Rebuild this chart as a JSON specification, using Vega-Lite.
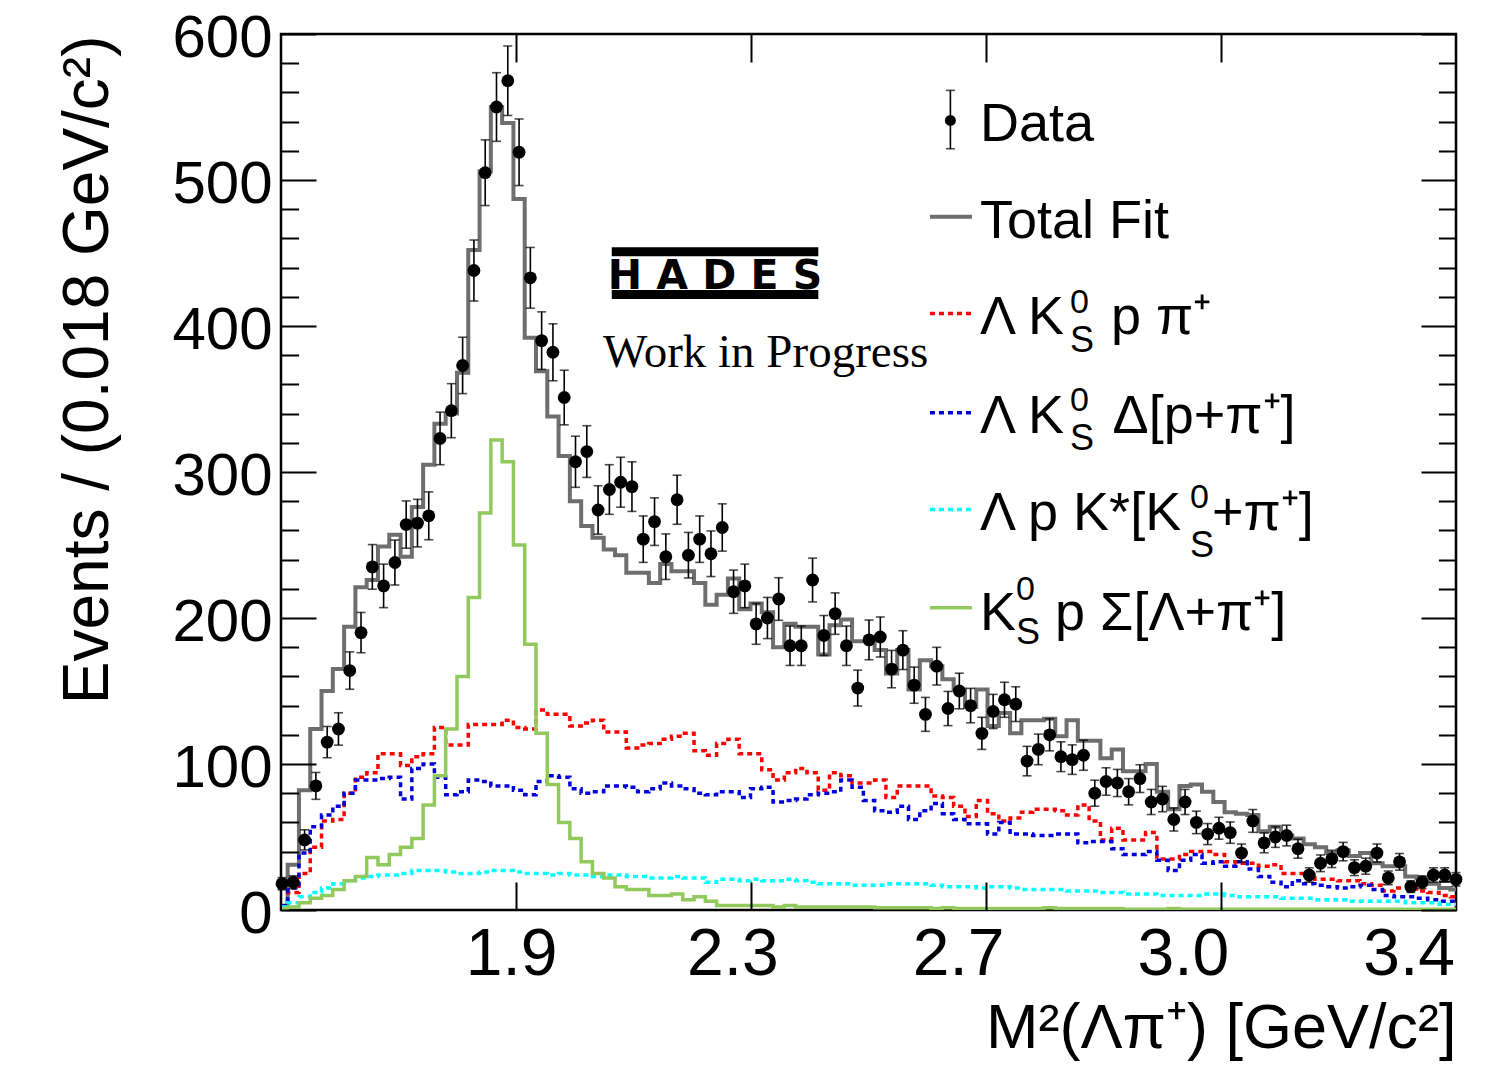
{
"$schema": "https://vega.github.io/schema/vega-lite/v6.json",
"width": 1175, "height": 876,
"autosize": {"type": "none"},
"padding": {"left": 281, "top": 34, "right": 55, "bottom": 156},
"background": "white",
"config": {"view": {"stroke": "black", "strokeWidth": 2.5}, "font": "Liberation Sans",
  "axis": {"labelFont": "Liberation Sans", "titleFont": "Liberation Sans", "labelColor": "black", "titleColor": "black", "tickColor": "black", "titleFontWeight": "normal", "grid": false, "domain": false, "labelFlush": false, "labelOverlap": false, "labelBound": false}},
"datasets": {"h": [
{"bin":0,"data":18,"err":4.2,"fit":2,"lkpp":2,"delta":3,"kstar":2,"sigma":1},
{"bin":1,"data":19,"err":4.4,"fit":31,"lkpp":12,"delta":15,"kstar":5,"sigma":2},
{"bin":2,"data":48,"err":6.9,"fit":82,"lkpp":25,"delta":39,"kstar":9,"sigma":5},
{"bin":3,"data":85,"err":9.2,"fit":124,"lkpp":43,"delta":57,"kstar":12,"sigma":8},
{"bin":4,"data":115,"err":10.7,"fit":150,"lkpp":61,"delta":65,"kstar":15,"sigma":10},
{"bin":5,"data":124,"err":11.1,"fit":165,"lkpp":62,"delta":71,"kstar":18,"sigma":14},
{"bin":6,"data":164,"err":12.8,"fit":194,"lkpp":80,"delta":80,"kstar":20,"sigma":20},
{"bin":7,"data":190,"err":13.8,"fit":221,"lkpp":91,"delta":89,"kstar":22,"sigma":23},
{"bin":8,"data":235,"err":15.3,"fit":226,"lkpp":94,"delta":89,"kstar":23,"sigma":36},
{"bin":9,"data":222,"err":14.9,"fit":249,"lkpp":107,"delta":90,"kstar":24,"sigma":31},
{"bin":10,"data":238,"err":15.4,"fit":257,"lkpp":107,"delta":91,"kstar":24,"sigma":38},
{"bin":11,"data":264,"err":16.2,"fit":242,"lkpp":99,"delta":76,"kstar":25,"sigma":43},
{"bin":12,"data":265,"err":16.3,"fit":276,"lkpp":105,"delta":97,"kstar":27,"sigma":49},
{"bin":13,"data":270,"err":16.4,"fit":305,"lkpp":107,"delta":100,"kstar":27,"sigma":72},
{"bin":14,"data":323,"err":18.0,"fit":333,"lkpp":125,"delta":91,"kstar":27,"sigma":92},
{"bin":15,"data":342,"err":18.5,"fit":340,"lkpp":113,"delta":79,"kstar":26,"sigma":124},
{"bin":16,"data":373,"err":19.3,"fit":368,"lkpp":113,"delta":81,"kstar":25,"sigma":160},
{"bin":17,"data":438,"err":20.9,"fit":452,"lkpp":127,"delta":89,"kstar":25,"sigma":214},
{"bin":18,"data":505,"err":22.5,"fit":506,"lkpp":127,"delta":88,"kstar":26,"sigma":272},
{"bin":19,"data":550,"err":23.5,"fit":550,"lkpp":127,"delta":85,"kstar":27,"sigma":322},
{"bin":20,"data":568,"err":23.8,"fit":539,"lkpp":130,"delta":85,"kstar":27,"sigma":307},
{"bin":21,"data":519,"err":22.8,"fit":487,"lkpp":125,"delta":82,"kstar":26,"sigma":250},
{"bin":22,"data":433,"err":20.8,"fit":392,"lkpp":124,"delta":79,"kstar":25,"sigma":182},
{"bin":23,"data":390,"err":19.7,"fit":369,"lkpp":137,"delta":88,"kstar":25,"sigma":121},
{"bin":24,"data":382,"err":19.5,"fit":338,"lkpp":134,"delta":92,"kstar":24,"sigma":86},
{"bin":25,"data":351,"err":18.7,"fit":311,"lkpp":134,"delta":91,"kstar":25,"sigma":60},
{"bin":26,"data":307,"err":17.5,"fit":280,"lkpp":126,"delta":83,"kstar":24,"sigma":49},
{"bin":27,"data":314,"err":17.7,"fit":263,"lkpp":128,"delta":80,"kstar":24,"sigma":33},
{"bin":28,"data":274,"err":16.6,"fit":255,"lkpp":130,"delta":81,"kstar":23,"sigma":25},
{"bin":29,"data":288,"err":17.0,"fit":247,"lkpp":122,"delta":85,"kstar":24,"sigma":22},
{"bin":30,"data":293,"err":17.1,"fit":243,"lkpp":122,"delta":85,"kstar":24,"sigma":16},
{"bin":31,"data":290,"err":17.0,"fit":231,"lkpp":111,"delta":84,"kstar":23,"sigma":14},
{"bin":32,"data":254,"err":15.9,"fit":231,"lkpp":113,"delta":81,"kstar":23,"sigma":14},
{"bin":33,"data":266,"err":16.3,"fit":224,"lkpp":114,"delta":83,"kstar":22,"sigma":10},
{"bin":34,"data":242,"err":15.6,"fit":237,"lkpp":117,"delta":87,"kstar":22,"sigma":10},
{"bin":35,"data":281,"err":16.8,"fit":232,"lkpp":119,"delta":85,"kstar":23,"sigma":11},
{"bin":36,"data":243,"err":15.6,"fit":232,"lkpp":121,"delta":83,"kstar":22,"sigma":7},
{"bin":37,"data":254,"err":15.9,"fit":224,"lkpp":109,"delta":80,"kstar":22,"sigma":9},
{"bin":38,"data":244,"err":15.6,"fit":209,"lkpp":106,"delta":79,"kstar":19,"sigma":6},
{"bin":39,"data":262,"err":16.2,"fit":216,"lkpp":114,"delta":81,"kstar":21,"sigma":3},
{"bin":40,"data":218,"err":14.8,"fit":227,"lkpp":117,"delta":81,"kstar":21,"sigma":3},
{"bin":41,"data":222,"err":14.9,"fit":206,"lkpp":107,"delta":77,"kstar":20,"sigma":3},
{"bin":42,"data":196,"err":14.0,"fit":210,"lkpp":107,"delta":83,"kstar":21,"sigma":3},
{"bin":43,"data":200,"err":14.1,"fit":204,"lkpp":96,"delta":84,"kstar":20,"sigma":3},
{"bin":44,"data":213,"err":14.6,"fit":180,"lkpp":89,"delta":74,"kstar":20,"sigma":2},
{"bin":45,"data":181,"err":13.5,"fit":196,"lkpp":94,"delta":75,"kstar":21,"sigma":3},
{"bin":46,"data":181,"err":13.5,"fit":194,"lkpp":97,"delta":76,"kstar":20,"sigma":2},
{"bin":47,"data":226,"err":15.0,"fit":194,"lkpp":94,"delta":79,"kstar":19,"sigma":2},
{"bin":48,"data":188,"err":13.7,"fit":175,"lkpp":82,"delta":80,"kstar":18,"sigma":2},
{"bin":49,"data":203,"err":14.2,"fit":195,"lkpp":94,"delta":81,"kstar":18,"sigma":2},
{"bin":50,"data":181,"err":13.5,"fit":199,"lkpp":92,"delta":89,"kstar":18,"sigma":2},
{"bin":51,"data":152,"err":12.3,"fit":184,"lkpp":87,"delta":84,"kstar":17,"sigma":2},
{"bin":52,"data":185,"err":13.6,"fit":184,"lkpp":87,"delta":75,"kstar":17,"sigma":2},
{"bin":53,"data":187,"err":13.7,"fit":178,"lkpp":89,"delta":68,"kstar":17,"sigma":1.5},
{"bin":54,"data":165,"err":12.8,"fit":162,"lkpp":77,"delta":67,"kstar":18,"sigma":1.5},
{"bin":55,"data":178,"err":13.3,"fit":178,"lkpp":85,"delta":71,"kstar":18,"sigma":1.5},
{"bin":56,"data":154,"err":12.4,"fit":151,"lkpp":85,"delta":62,"kstar":18,"sigma":1.5},
{"bin":57,"data":134,"err":11.6,"fit":171,"lkpp":85,"delta":68,"kstar":18,"sigma":1.5},
{"bin":58,"data":167,"err":12.9,"fit":167,"lkpp":78,"delta":73,"kstar":17,"sigma":1},
{"bin":59,"data":138,"err":11.7,"fit":158,"lkpp":77,"delta":66,"kstar":16,"sigma":1.5},
{"bin":60,"data":150,"err":12.2,"fit":151,"lkpp":71,"delta":62,"kstar":16,"sigma":1},
{"bin":61,"data":140,"err":11.8,"fit":139,"lkpp":64,"delta":59,"kstar":16,"sigma":1},
{"bin":62,"data":121,"err":11.0,"fit":151,"lkpp":75,"delta":59,"kstar":15,"sigma":1},
{"bin":63,"data":136,"err":11.7,"fit":126,"lkpp":66,"delta":52,"kstar":16,"sigma":1},
{"bin":64,"data":144,"err":12.0,"fit":135,"lkpp":61,"delta":60,"kstar":16,"sigma":1},
{"bin":65,"data":141,"err":11.9,"fit":121,"lkpp":63,"delta":52,"kstar":15,"sigma":1},
{"bin":66,"data":102,"err":10.1,"fit":130,"lkpp":67,"delta":52,"kstar":14,"sigma":1},
{"bin":67,"data":110,"err":10.5,"fit":130,"lkpp":69,"delta":51,"kstar":14,"sigma":1},
{"bin":68,"data":120,"err":11.0,"fit":131,"lkpp":69,"delta":51,"kstar":14,"sigma":1.5},
{"bin":69,"data":105,"err":10.2,"fit":119,"lkpp":68,"delta":52,"kstar":14,"sigma":1},
{"bin":70,"data":103,"err":10.1,"fit":130,"lkpp":65,"delta":52,"kstar":13,"sigma":1},
{"bin":71,"data":106,"err":10.3,"fit":116,"lkpp":72,"delta":46,"kstar":13,"sigma":1},
{"bin":72,"data":80,"err":8.9,"fit":116,"lkpp":61,"delta":47,"kstar":13,"sigma":1},
{"bin":73,"data":88,"err":9.4,"fit":104,"lkpp":48,"delta":47,"kstar":12,"sigma":1},
{"bin":74,"data":87,"err":9.3,"fit":110,"lkpp":56,"delta":42,"kstar":12,"sigma":1},
{"bin":75,"data":81,"err":9.0,"fit":95,"lkpp":48,"delta":38,"kstar":11,"sigma":0.5},
{"bin":76,"data":90,"err":9.5,"fit":95,"lkpp":48,"delta":38,"kstar":11,"sigma":0.5},
{"bin":77,"data":74,"err":8.6,"fit":100,"lkpp":53,"delta":40,"kstar":11,"sigma":0.5},
{"bin":78,"data":76,"err":8.7,"fit":81,"lkpp":35,"delta":34,"kstar":10,"sigma":0.5},
{"bin":79,"data":62,"err":7.9,"fit":69,"lkpp":35,"delta":27,"kstar":10,"sigma":1},
{"bin":80,"data":74,"err":8.6,"fit":85,"lkpp":38,"delta":34,"kstar":10,"sigma":0.5},
{"bin":81,"data":60,"err":7.7,"fit":86,"lkpp":40,"delta":38,"kstar":10,"sigma":0.5},
{"bin":82,"data":52,"err":7.2,"fit":81,"lkpp":40,"delta":32,"kstar":11,"sigma":0.5},
{"bin":83,"data":56,"err":7.5,"fit":74,"lkpp":38,"delta":33,"kstar":11,"sigma":0.5},
{"bin":84,"data":53,"err":7.3,"fit":67,"lkpp":33,"delta":30,"kstar":10,"sigma":0.5},
{"bin":85,"data":39,"err":6.2,"fit":66,"lkpp":32,"delta":33,"kstar":9,"sigma":0.5},
{"bin":86,"data":61,"err":7.8,"fit":65,"lkpp":32,"delta":28,"kstar":9,"sigma":0.5},
{"bin":87,"data":46,"err":6.8,"fit":54,"lkpp":30,"delta":23,"kstar":9,"sigma":0.5},
{"bin":88,"data":50,"err":7.1,"fit":57,"lkpp":31,"delta":19,"kstar":9,"sigma":0.5},
{"bin":89,"data":51,"err":7.1,"fit":51,"lkpp":25,"delta":16,"kstar":8,"sigma":0.5},
{"bin":90,"data":42,"err":6.5,"fit":49,"lkpp":25,"delta":20,"kstar":8,"sigma":0.5},
{"bin":91,"data":24,"err":4.9,"fit":45,"lkpp":24,"delta":18,"kstar":8,"sigma":0.5},
{"bin":92,"data":32,"err":5.7,"fit":43,"lkpp":21,"delta":17,"kstar":7,"sigma":0.5},
{"bin":93,"data":35,"err":5.9,"fit":39,"lkpp":21,"delta":16,"kstar":7,"sigma":0.5},
{"bin":94,"data":40,"err":6.3,"fit":41,"lkpp":20,"delta":15,"kstar":7,"sigma":0.5},
{"bin":95,"data":29,"err":5.4,"fit":37,"lkpp":20,"delta":16,"kstar":6,"sigma":0.5},
{"bin":96,"data":30,"err":5.5,"fit":39,"lkpp":18,"delta":17,"kstar":6,"sigma":0.5},
{"bin":97,"data":39,"err":6.2,"fit":32,"lkpp":17,"delta":14,"kstar":6,"sigma":0.5},
{"bin":98,"data":22,"err":4.7,"fit":30,"lkpp":13,"delta":10,"kstar":6,"sigma":0.5},
{"bin":99,"data":33,"err":5.7,"fit":30,"lkpp":15,"delta":9,"kstar":6,"sigma":0.5},
{"bin":100,"data":16,"err":4.0,"fit":23,"lkpp":15,"delta":9,"kstar":5,"sigma":0.5},
{"bin":101,"data":19,"err":4.4,"fit":22,"lkpp":13,"delta":8,"kstar":5,"sigma":0.5},
{"bin":102,"data":24,"err":4.9,"fit":18,"lkpp":12,"delta":7,"kstar":5,"sigma":0.5},
{"bin":103,"data":24,"err":4.9,"fit":15,"lkpp":10,"delta":6,"kstar":4,"sigma":0.5},
{"bin":104,"data":21,"err":4.6,"fit":14,"lkpp":9,"delta":6,"kstar":4,"sigma":0.5}
]},
"data": {"name": "h"},
"resolve": {"axis": {"x": "independent", "y": "independent"}},
"layer": [
{"mark": {"type": "line", "interpolate": "step", "clip": true, "color": "#6e6e6e", "strokeWidth": 4},
 "encoding": {
  "x": {"field": "bin", "type": "quantitative", "scale": {"domain": [-0.09, 104], "nice": false, "zero": false},
        "axis": {"orient": "bottom", "values": [20.73, 41.55, 62.37, 83.19], "tickSize": -28, "tickWidth": 2, "labels": false, "title": null, "zindex": 1}},
  "y": {"field": "fit", "type": "quantitative", "scale": {"domain": [0, 600], "nice": false, "zero": false},
        "axis": {"orient": "left", "values": [20,40,60,80,120,140,160,180,220,240,260,280,320,340,360,380,420,440,460,480,520,540,560,580], "tickSize": -17.6, "tickWidth": 2, "labels": false, "title": null, "zindex": 1}}}},
{"mark": {"type": "line", "interpolate": "step", "clip": true, "color": "#ff0000", "strokeWidth": 3.5, "strokeDash": [5, 4]},
 "encoding": {
  "x": {"field": "bin", "type": "quantitative", "scale": {"domain": [-0.09, 104], "nice": false, "zero": false},
        "axis": {"orient": "top", "values": [20.73, 41.55, 62.37, 83.19], "tickSize": -28, "tickWidth": 2, "labels": false, "title": null, "zindex": 1}},
  "y": {"field": "lkpp", "type": "quantitative", "scale": {"domain": [0, 600], "nice": false, "zero": false},
        "axis": {"orient": "right", "values": [0,100,200,300,400,500,600], "tickSize": -35, "tickWidth": 2, "labels": false, "title": null, "zindex": 1}}}},
{"mark": {"type": "line", "interpolate": "step", "clip": true, "color": "#0000dd", "strokeWidth": 3.5, "strokeDash": [5, 4]},
 "encoding": {
  "x": {"field": "bin", "type": "quantitative", "scale": {"domain": [-0.09, 104], "nice": false, "zero": false}, "axis": null},
  "y": {"field": "delta", "type": "quantitative", "scale": {"domain": [0, 600], "nice": false, "zero": false},
        "axis": {"orient": "right", "values": [20,40,60,80,120,140,160,180,220,240,260,280,320,340,360,380,420,440,460,480,520,540,560,580], "tickSize": -17.6, "tickWidth": 2, "labels": false, "title": null, "zindex": 1}}}},
{"mark": {"type": "line", "interpolate": "step", "clip": true, "color": "#00ffff", "strokeWidth": 3.5, "strokeDash": [5, 4]},
 "encoding": {
  "x": {"field": "bin", "type": "quantitative", "scale": {"domain": [-0.09, 104], "nice": false, "zero": false}, "axis": null},
  "y": {"field": "kstar", "type": "quantitative", "scale": {"domain": [0, 600], "nice": false, "zero": false}, "axis": null}}},
{"mark": {"type": "line", "interpolate": "step", "clip": true, "color": "#92c95c", "strokeWidth": 3.5},
 "encoding": {
  "x": {"field": "bin", "type": "quantitative", "scale": {"domain": [-0.09, 104], "nice": false, "zero": false}, "axis": null},
  "y": {"field": "sigma", "type": "quantitative", "scale": {"domain": [0, 600], "nice": false, "zero": false}, "axis": null}}},
{"mark": {"type": "errorbar", "ticks": {"size": 9, "thickness": 1.6, "color": "black"}, "rule": {"strokeWidth": 1.6, "color": "black"}, "color": "black"},
 "encoding": {
  "x": {"field": "bin", "type": "quantitative", "scale": {"domain": [-0.09, 104], "nice": false, "zero": false}, "axis": null},
  "y": {"field": "data", "type": "quantitative", "scale": {"domain": [0, 600], "nice": false, "zero": false}, "axis": null},
  "yError": {"field": "err"}}},
{"mark": {"type": "point", "shape": "circle", "filled": true, "size": 165, "color": "black", "opacity": 1},
 "encoding": {
  "x": {"field": "bin", "type": "quantitative", "scale": {"domain": [-0.09, 104], "nice": false, "zero": false},
        "axis": {"orient": "bottom", "values": [20.3, 39.9, 59.9, 79.8, 99.8], "ticks": false, "tickSize": 0,
                 "labelExpr": "datum.value < 30 ? '1.9' : datum.value < 50 ? '2.3' : datum.value < 70 ? '2.7' : datum.value < 90 ? '3.0' : '3.4'",
                 "labelFontSize": 66, "labelPadding": 12, "labelBaseline": "top", "labelAlign": "center",
                 "title": "M²(Λπ⁺) [GeV/c²]", "titleFontSize": 63, "titleAlign": "right", "titleBaseline": "alphabetic", "titleX": 1175, "titleY": 137}},
  "y": {"field": "data", "type": "quantitative", "scale": {"domain": [0, 600], "nice": false, "zero": false},
        "axis": {"orient": "left", "values": [0,100,200,300,400,500,600], "tickSize": -35, "tickWidth": 2, "zindex": 1,
                 "labelFontSize": 60, "labelPadding": 44, "labelOffset": 4, "labelBaseline": "middle", "labelAlign": "right",
                 "title": "Events / (0.018 GeV/c²)", "titleFontSize": 64, "titleAngle": -90, "titleAlign": "right", "titleBaseline": "alphabetic", "titleX": -174, "titleY": 1}}}},
{"data": {"values": [{}]}, "mark": {"type": "rule", "color": "black", "strokeWidth": 9, "strokeCap": "butt"},
 "encoding": {"x": {"datum": 29.21, "type": "quantitative", "axis": null}, "x2": {"datum": 47.51}, "y": {"datum": 450.9, "type": "quantitative", "axis": null}}},
{"data": {"values": [{}]}, "mark": {"type": "rule", "color": "black", "strokeWidth": 9, "strokeCap": "butt"},
 "encoding": {"x": {"datum": 29.21, "type": "quantitative", "axis": null}, "x2": {"datum": 47.51}, "y": {"datum": 421.6, "type": "quantitative", "axis": null}}},
{"data": {"values": [{}]}, "mark": {"type": "text", "text": "H A D E S", "font": "DejaVu Sans", "fontWeight": "bold", "fontSize": 41, "align": "center", "baseline": "alphabetic", "color": "black"},
 "encoding": {"x": {"datum": 38.36, "type": "quantitative", "axis": null}, "y": {"datum": 425.3, "type": "quantitative", "axis": null}}},
{"data": {"values": [{}]}, "mark": {"type": "text", "text": "Work in Progress", "font": "Liberation Serif", "fontSize": 47, "align": "left", "baseline": "alphabetic", "color": "black"},
 "encoding": {"x": {"datum": 28.44, "type": "quantitative", "axis": null}, "y": {"datum": 372.1, "type": "quantitative", "axis": null}}},
{"data": {"values": [{}]}, "mark": {"type": "rule", "color": "black", "strokeWidth": 1.6},
 "encoding": {"x": {"datum": 59.21, "type": "quantitative", "axis": null}, "y": {"datum": 521.4, "type": "quantitative", "axis": null}, "y2": {"datum": 561.4}}},
{"data": {"values": [{}]}, "mark": {"type": "tick", "orient": "horizontal", "color": "black", "size": 9, "thickness": 1.6},
 "encoding": {"x": {"datum": 59.21, "type": "quantitative", "axis": null}, "y": {"datum": 521.4, "type": "quantitative", "axis": null}}},
{"data": {"values": [{}]}, "mark": {"type": "tick", "orient": "horizontal", "color": "black", "size": 9, "thickness": 1.6},
 "encoding": {"x": {"datum": 59.21, "type": "quantitative", "axis": null}, "y": {"datum": 561.4, "type": "quantitative", "axis": null}}},
{"data": {"values": [{}]}, "mark": {"type": "point", "shape": "circle", "filled": true, "size": 120, "color": "black", "opacity": 1},
 "encoding": {"x": {"datum": 59.21, "type": "quantitative", "axis": null}, "y": {"datum": 540.8, "type": "quantitative", "axis": null}}},
{"data": {"values": [{}]}, "mark": {"type": "text", "text": "Data", "fontSize": 54, "align": "left", "baseline": "alphabetic", "color": "black"},
 "encoding": {"x": {"datum": 61.83, "type": "quantitative", "axis": null}, "y": {"datum": 527.0, "type": "quantitative", "axis": null}}},
{"data": {"values": [{}]}, "mark": {"type": "rule", "color": "#6e6e6e", "strokeWidth": 4},
 "encoding": {"x": {"datum": 57.4, "type": "quantitative", "axis": null}, "x2": {"datum": 61.12}, "y": {"datum": 474.8, "type": "quantitative", "axis": null}}},
{"data": {"values": [{}]}, "mark": {"type": "text", "text": "Total Fit", "fontSize": 54, "align": "left", "baseline": "alphabetic", "color": "black"},
 "encoding": {"x": {"datum": 61.83, "type": "quantitative", "axis": null}, "y": {"datum": 460.3, "type": "quantitative", "axis": null}}},
{"data": {"values": [{}]}, "mark": {"type": "rule", "color": "#ff0000", "strokeWidth": 3.5, "strokeDash": [5, 4]},
 "encoding": {"x": {"datum": 57.4, "type": "quantitative", "axis": null}, "x2": {"datum": 61.12}, "y": {"datum": 408.6, "type": "quantitative", "axis": null}}},
{"data": {"values": [{}]}, "mark": {"type": "text", "text": "Λ K", "fontSize": 54, "align": "left", "baseline": "alphabetic", "color": "black"},
 "encoding": {"x": {"datum": 61.83, "type": "quantitative", "axis": null}, "y": {"datum": 394.7, "type": "quantitative", "axis": null}}},
{"data": {"values": [{}]}, "mark": {"type": "text", "text": "0", "fontSize": 34, "align": "left", "baseline": "alphabetic", "color": "black"},
 "encoding": {"x": {"datum": 69.8, "type": "quantitative", "axis": null}, "y": {"datum": 409.0, "type": "quantitative", "axis": null}}},
{"data": {"values": [{}]}, "mark": {"type": "text", "text": "S", "fontSize": 36, "align": "left", "baseline": "alphabetic", "color": "black"},
 "encoding": {"x": {"datum": 69.8, "type": "quantitative", "axis": null}, "y": {"datum": 382.5, "type": "quantitative", "axis": null}}},
{"data": {"values": [{}]}, "mark": {"type": "text", "text": "p π⁺", "fontSize": 54, "align": "left", "baseline": "alphabetic", "color": "black"},
 "encoding": {"x": {"datum": 73.44, "type": "quantitative", "axis": null}, "y": {"datum": 394.7, "type": "quantitative", "axis": null}}},
{"data": {"values": [{}]}, "mark": {"type": "rule", "color": "#0000dd", "strokeWidth": 3.5, "strokeDash": [5, 4]},
 "encoding": {"x": {"datum": 57.4, "type": "quantitative", "axis": null}, "x2": {"datum": 61.12}, "y": {"datum": 340.6, "type": "quantitative", "axis": null}}},
{"data": {"values": [{}]}, "mark": {"type": "text", "text": "Λ K", "fontSize": 54, "align": "left", "baseline": "alphabetic", "color": "black"},
 "encoding": {"x": {"datum": 61.83, "type": "quantitative", "axis": null}, "y": {"datum": 326.7, "type": "quantitative", "axis": null}}},
{"data": {"values": [{}]}, "mark": {"type": "text", "text": "0", "fontSize": 34, "align": "left", "baseline": "alphabetic", "color": "black"},
 "encoding": {"x": {"datum": 69.8, "type": "quantitative", "axis": null}, "y": {"datum": 341.9, "type": "quantitative", "axis": null}}},
{"data": {"values": [{}]}, "mark": {"type": "text", "text": "S", "fontSize": 36, "align": "left", "baseline": "alphabetic", "color": "black"},
 "encoding": {"x": {"datum": 69.8, "type": "quantitative", "axis": null}, "y": {"datum": 315.3, "type": "quantitative", "axis": null}}},
{"data": {"values": [{}]}, "mark": {"type": "text", "text": "Δ[p+π⁺]", "fontSize": 54, "align": "left", "baseline": "alphabetic", "color": "black"},
 "encoding": {"x": {"datum": 73.58, "type": "quantitative", "axis": null}, "y": {"datum": 326.7, "type": "quantitative", "axis": null}}},
{"data": {"values": [{}]}, "mark": {"type": "rule", "color": "#00ffff", "strokeWidth": 3.5, "strokeDash": [5, 4]},
 "encoding": {"x": {"datum": 57.4, "type": "quantitative", "axis": null}, "x2": {"datum": 61.12}, "y": {"datum": 274.4, "type": "quantitative", "axis": null}}},
{"data": {"values": [{}]}, "mark": {"type": "text", "text": "Λ p K*[K", "fontSize": 54, "align": "left", "baseline": "alphabetic", "color": "black"},
 "encoding": {"x": {"datum": 61.83, "type": "quantitative", "axis": null}, "y": {"datum": 260.3, "type": "quantitative", "axis": null}}},
{"data": {"values": [{}]}, "mark": {"type": "text", "text": "0", "fontSize": 34, "align": "left", "baseline": "alphabetic", "color": "black"},
 "encoding": {"x": {"datum": 80.44, "type": "quantitative", "axis": null}, "y": {"datum": 275.5, "type": "quantitative", "axis": null}}},
{"data": {"values": [{}]}, "mark": {"type": "text", "text": "S", "fontSize": 36, "align": "left", "baseline": "alphabetic", "color": "black"},
 "encoding": {"x": {"datum": 80.44, "type": "quantitative", "axis": null}, "y": {"datum": 242.0, "type": "quantitative", "axis": null}}},
{"data": {"values": [{}]}, "mark": {"type": "text", "text": "+π⁺]", "fontSize": 54, "align": "left", "baseline": "alphabetic", "color": "black"},
 "encoding": {"x": {"datum": 82.39, "type": "quantitative", "axis": null}, "y": {"datum": 260.3, "type": "quantitative", "axis": null}}},
{"data": {"values": [{}]}, "mark": {"type": "rule", "color": "#92c95c", "strokeWidth": 3.5},
 "encoding": {"x": {"datum": 57.4, "type": "quantitative", "axis": null}, "x2": {"datum": 61.12}, "y": {"datum": 207.1, "type": "quantitative", "axis": null}}},
{"data": {"values": [{}]}, "mark": {"type": "text", "text": "K", "fontSize": 54, "align": "left", "baseline": "alphabetic", "color": "black"},
 "encoding": {"x": {"datum": 61.83, "type": "quantitative", "axis": null}, "y": {"datum": 192.1, "type": "quantitative", "axis": null}}},
{"data": {"values": [{}]}, "mark": {"type": "text", "text": "0", "fontSize": 34, "align": "left", "baseline": "alphabetic", "color": "black"},
 "encoding": {"x": {"datum": 65.02, "type": "quantitative", "axis": null}, "y": {"datum": 212.5, "type": "quantitative", "axis": null}}},
{"data": {"values": [{}]}, "mark": {"type": "text", "text": "S", "fontSize": 36, "align": "left", "baseline": "alphabetic", "color": "black"},
 "encoding": {"x": {"datum": 65.02, "type": "quantitative", "axis": null}, "y": {"datum": 182.5, "type": "quantitative", "axis": null}}},
{"data": {"values": [{}]}, "mark": {"type": "text", "text": "p Σ[Λ+π⁺]", "fontSize": 54, "align": "left", "baseline": "alphabetic", "color": "black"},
 "encoding": {"x": {"datum": 68.48, "type": "quantitative", "axis": null}, "y": {"datum": 192.1, "type": "quantitative", "axis": null}}}
]
}
